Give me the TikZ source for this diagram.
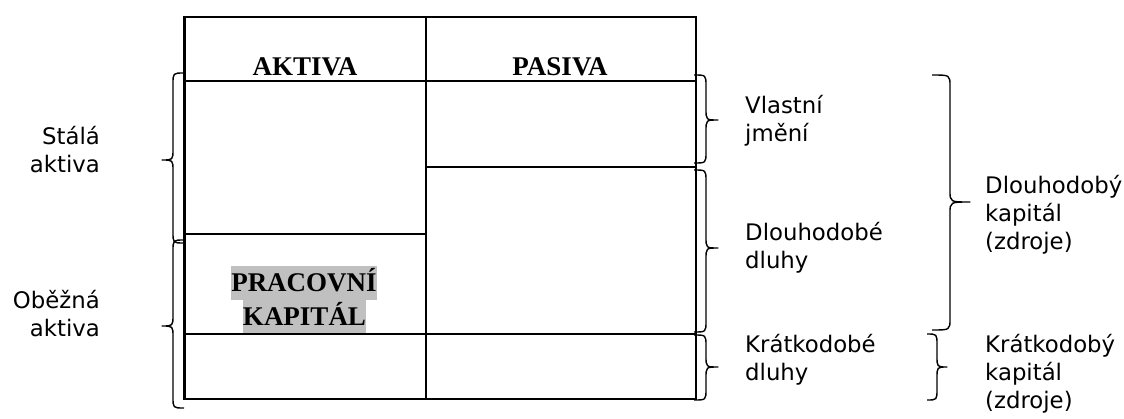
\documentclass[tikz,border=0pt]{standalone}
\usepackage{fontspec}
\setmainfont{Liberation Serif}
\newfontfamily\labelfont{DejaVu Sans}
\definecolor{hl}{RGB}{192,192,192}
\tikzset{
  gridline/.style={line width=2.6pt, line cap=rect},
  curly/.style={line width=1.4pt, line join=round},
  head/.style={font=\fontsize{27}{30}\selectfont\bfseries, anchor=base, inner sep=0pt},
  marked/.style={head, fill=hl, text height=25pt, text depth=9pt},
  side/.style={font=\labelfont\fontsize{22.8}{28}\selectfont, inner sep=0pt},
}
% curly brace: #1 end x, #2 stem x, #3 tip x, #4 top y, #5 tip y, #6 bottom y
\newcommand{\curlybrace}[6]{%
  \draw[curly] (#1,#4) .. controls (#2,#4) .. (#2,#4+11)
    -- (#2,#5-11) .. controls (#2,#5) .. (#3,#5)
    .. controls (#2,#5) .. (#2,#5+11)
    -- (#2,#6-11) .. controls (#2,#6) .. (#1,#6);}
\begin{document}
\begin{tikzpicture}[x=1pt, y=-1pt]
\useasboundingbox (0,0) rectangle (1124,418);

% highlighted label inside the current-assets cell
\node[marked] (prac) at (304,291) {PRACOVNÍ};
\node[marked] (kap) at (304.5,325) {KAPITÁL};

% balance sheet table
\coordinate (tl) at (184.5,17);
\coordinate (br) at (696,399);
\draw[gridline] (tl) rectangle (br);
\draw[gridline] (426,17) -- (426,399);
\draw[gridline] (184.5,81) -- (696,81);
\draw[gridline] (184.5,234) -- (426,234);
\draw[gridline] (426,167) -- (696,167);
\draw[gridline] (184.5,334) -- (696,334);

\node[head] (aktiva) at (305,75) {AKTIVA};
\node[head] (pasiva) at (560,75) {PASIVA};

% left braces
\curlybrace{184}{173}{162}{73}{160}{243}
\curlybrace{184}{173}{162}{240}{326}{408}
% right braces next to the table
\curlybrace{694}{706}{718}{75}{120}{163}
\curlybrace{694}{706}{718}{170}{248}{332}
\curlybrace{694}{706}{718}{335}{367}{400}
% outer braces
\curlybrace{932}{950}{970}{75}{202}{330}
\curlybrace{927}{937}{947}{334}{367}{400}

% labels (anchored at the baseline of their last line)
\node[side, anchor=base east, align=right] (stala) at (100,172) {Stálá\\aktiva};
\node[side, anchor=base east, align=right] (obezna) at (100,336) {Oběžná\\aktiva};
\node[side, anchor=base west, align=left] (vlastni) at (745,141) {Vlastní\\jmění};
\node[side, anchor=base west, align=left] (dldluhy) at (745,268) {Dlouhodobé\\dluhy};
\node[side, anchor=base west, align=left] (krdluhy) at (745,380) {Krátkodobé\\dluhy};
\node[side, anchor=base west, align=left] (dlkap) at (985,249) {Dlouhodobý\\kapitál\\(zdroje)};
\node[side, anchor=base west, align=left] (krkap) at (985,408) {Krátkodobý\\kapitál\\(zdroje)};
\end{tikzpicture}
\end{document}
